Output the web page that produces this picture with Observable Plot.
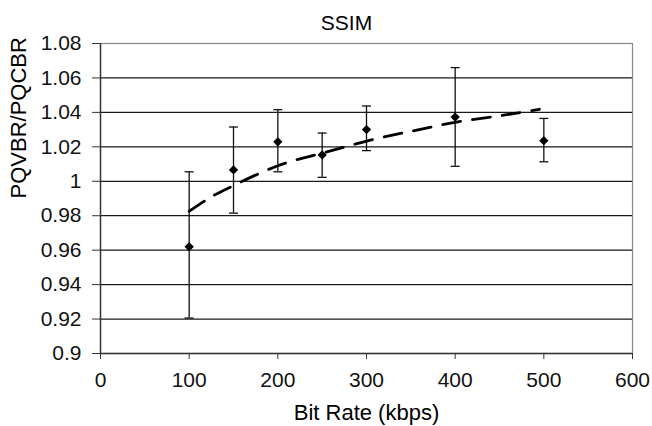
<!DOCTYPE html>
<html>
<head>
<meta charset="utf-8">
<script src="https://cdn.jsdelivr.net/npm/d3@7"></script>
<script src="https://cdn.jsdelivr.net/npm/@observablehq/plot@0.6"></script>
<style>
  html, body { margin: 0; padding: 0; background: #fff; }
  #chart svg { display: block; }
</style>
</head>
<body>
<div id="chart"></div>
<script>
// ---- data ----
const bitRates   = [100, 150, 200, 250, 300, 400, 500];
const ratioMean  = [0.962, 1.0066, 1.0229, 1.0153, 1.030, 1.0373, 1.0236];
const ratioLow   = [0.9206, 0.9815, 1.0055, 1.0023, 1.0178, 1.0087, 1.0113];
const ratioHigh  = [1.0055, 1.0315, 1.0416, 1.028, 1.0437, 1.066, 1.0365];

const trendRates = [100, 125, 150, 200, 250, 300, 350, 400, 450, 495];
const trendValue = [0.9826, 0.991, 0.9975, 1.009, 1.0163, 1.0233, 1.029, 1.0342, 1.038, 1.0418];

const xTicks = [0, 100, 200, 300, 400, 500, 600];
const yTicks = [0.9, 0.92, 0.94, 0.96, 0.98, 1, 1.02, 1.04, 1.06, 1.08];

const titleText = "SSIM";
const xLabel = "Bit Rate (kbps)";
const yLabel = "PQVBR/PQCBR";

// ---- tables built from the arrays ----
const points = bitRates.map((x, i) => ({x, y: ratioMean[i], lo: ratioLow[i], hi: ratioHigh[i]}));
const trend = trendRates.map((x, i) => ({x, y: trendValue[i]}));

// horizontal cap symbol for error bars
const capSymbol = {
  draw(context, size) {
    const r = Math.sqrt(size / Math.PI);
    context.moveTo(-r, 0);
    context.lineTo(r, 0);
  }
};

const chart = Plot.plot({
  width: 652,
  height: 426,
  marginLeft: 100,
  marginRight: 20,
  marginTop: 43,
  marginBottom: 73,
  style: {fontFamily: "'Liberation Sans', Arial, sans-serif", fontSize: "21px", color: "#111", background: "#fff"},
  x: {domain: [0, 600], ticks: xTicks},
  y: {domain: [0.9, 1.08], ticks: yTicks},
  marks: [
    Plot.frame({stroke: "#888", strokeWidth: 1.2}),
    Plot.gridY(yTicks.filter(v => v > 0.9 && v < 1.08), {stroke: "#1a1a1a", strokeOpacity: 1, strokeWidth: 1.3}),
    Plot.ruleX([0], {stroke: "#333", strokeWidth: 1.4}),
    Plot.ruleY([0.9], {stroke: "#333", strokeWidth: 1.4}),
    Plot.axisX({ticks: xTicks, tickSize: 6, tickPadding: 13, tickFormat: d => String(d), label: null, stroke: "#333"}),
    Plot.axisY({ticks: yTicks, tickSize: 8, tickPadding: 11, tickFormat: d => String(+d.toFixed(2)), label: null, stroke: "#333"}),
    Plot.line(trend, {x: "x", y: "y", stroke: "#000", strokeWidth: 2.8, strokeDasharray: "18,12", curve: "natural"}),
    Plot.ruleX(points, {x: "x", y1: "lo", y2: "hi", stroke: "#111", strokeWidth: 1.3}),
    Plot.dot(points, {x: "x", y: "hi", symbol: capSymbol, r: 4.5, stroke: "#111", strokeWidth: 1.3, fill: "none"}),
    Plot.dot(points, {x: "x", y: "lo", symbol: capSymbol, r: 4.5, stroke: "#111", strokeWidth: 1.3, fill: "none"}),
    Plot.dot(points, {x: "x", y: "y", symbol: "diamond2", r: 4.2, fill: "#000", stroke: "none"}),
    Plot.text([titleText], {frameAnchor: "top", dx: -20, dy: -20, lineAnchor: "middle", fontSize: 21, fill: "#000"}),
    Plot.text([xLabel], {frameAnchor: "bottom", dy: 59, lineAnchor: "middle", fontSize: 22, fill: "#000"}),
    Plot.text([yLabel], {frameAnchor: "left", dx: -82, rotate: -90, lineAnchor: "middle", fontSize: 22, fill: "#000"})
  ]
});
document.getElementById("chart").appendChild(chart);
</script>
</body>
</html>
